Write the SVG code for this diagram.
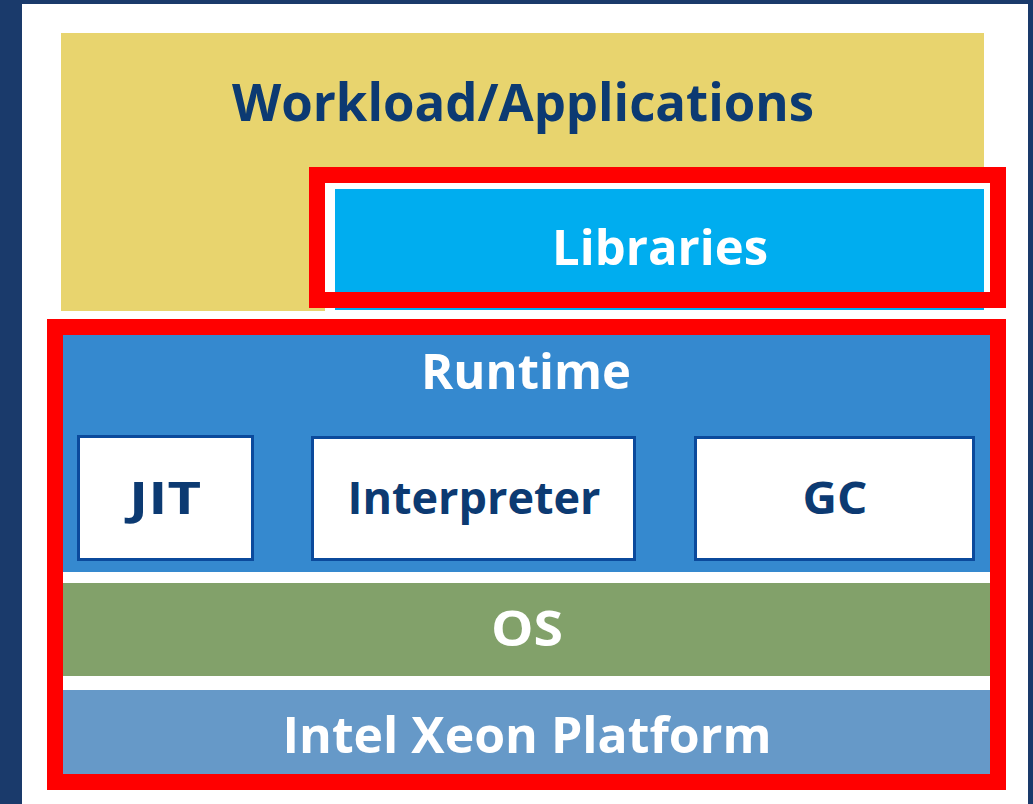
<svg xmlns="http://www.w3.org/2000/svg" width="1033" height="804" viewBox="0 0 1033 804">
  <style>
    .lbl { font-family: "Open Sans", "Liberation Sans", sans-serif; font-weight: 700; text-anchor: middle; }
    .dark { fill: #0c3a72; }
    .light { fill: #ffffff; }
    .hl { fill: none; stroke: #ff0000; stroke-width: 16; }
    .comp { fill: #ffffff; stroke: #0b4a9c; stroke-width: 3; }
  </style>
  <!-- page frame -->
  <rect x="0" y="0" width="1033" height="804" fill="#1a3a6b"/>
  <rect x="22" y="4" width="1006" height="800" fill="#ffffff"/>

  <g id="workload">
    <rect x="61" y="33" width="923" height="278" fill="#e8d46e"/>
    <text class="lbl dark" x="523" y="121" font-size="52" textLength="582" lengthAdjust="spacingAndGlyphs">Workload/Applications</text>
  </g>

  <g id="libraries">
    <rect x="325" y="183" width="665" height="129" fill="#ffffff"/>
    <rect x="335" y="189" width="649" height="121" fill="#00adef"/>
    <text class="lbl light" x="660" y="265" font-size="48" textLength="216" lengthAdjust="spacingAndGlyphs">Libraries</text>
  </g>

  <g id="runtime">
    <rect x="63" y="335" width="927" height="237" fill="#3589cf"/>
    <text class="lbl light" x="526" y="389" font-size="48" textLength="210" lengthAdjust="spacingAndGlyphs">Runtime</text>
  </g>

  <g id="jit">
    <rect class="comp" x="78.5" y="436.5" width="174" height="123"/>
    <text class="lbl dark" x="165" y="514" font-size="45" textLength="72" lengthAdjust="spacingAndGlyphs">JIT</text>
  </g>

  <g id="interpreter">
    <rect class="comp" x="312.5" y="437.5" width="322" height="122"/>
    <text class="lbl dark" x="474" y="514" font-size="45" textLength="253" lengthAdjust="spacingAndGlyphs">Interpreter</text>
  </g>

  <g id="gc">
    <rect class="comp" x="695.5" y="437.5" width="278" height="122"/>
    <text class="lbl dark" x="835" y="514" font-size="45" textLength="65" lengthAdjust="spacingAndGlyphs">GC</text>
  </g>

  <g id="os">
    <rect x="63" y="583" width="927" height="93" fill="#82a16a"/>
    <text class="lbl light" x="527" y="646" font-size="48" textLength="72" lengthAdjust="spacingAndGlyphs">OS</text>
  </g>

  <g id="platform">
    <rect x="63" y="690" width="927" height="84" fill="#6699c8"/>
    <text class="lbl light" x="527" y="753" font-size="50" textLength="489" lengthAdjust="spacingAndGlyphs">Intel Xeon Platform</text>
  </g>

  <!-- highlight outlines -->
  <g id="connectors">
    <rect class="hl" x="317" y="175" width="681" height="125"/>
    <rect class="hl" x="55" y="327" width="943" height="455"/>
  </g>
</svg>
